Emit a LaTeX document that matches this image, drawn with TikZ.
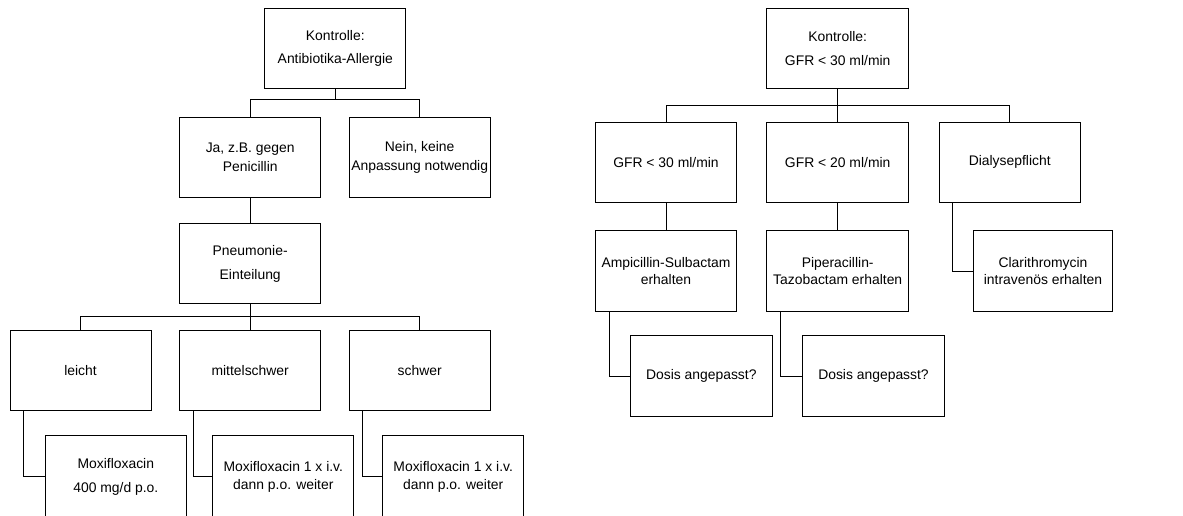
\documentclass[tikz,border=0pt]{standalone}
\usepackage{fontspec}
\setmainfont{Liberation Sans}
\begin{document}
\begin{tikzpicture}[x=1pt,y=-1pt,
  box/.style={draw, line width=1pt, minimum width=141pt, minimum height=80pt,
    inner sep=0pt, align=center, font=\fontsize{13.9}{17.5}\selectfont},
  wide/.style={font=\fontsize{13.9}{23.5}\selectfont},
  link/.style={line width=1pt}]
\useasboundingbox (0,0) rectangle (1183,515);
\clip (0,0) rectangle (1183,515);
% left tree
\node[box,wide] (allergie) at (335.3,48.3) {Kontrolle:\\Antibiotika-Allergie};
\node[box,font=\fontsize{13.9}{18.4}\selectfont] (ja) at (250.2,157.3) {Ja, z.B. gegen\\Penicillin};
\node[box,font=\fontsize{13.9}{18.4}\selectfont] (nein) at (419.7,157.3) {Nein, keine\\Anpassung notwendig};
\node[box,wide] (pneu) at (250.2,263.7) {Pneumonie-\\Einteilung};
\node[box] (leicht) at (80.5,370.7) {leicht};
\node[box] (mittel) at (250.2,370.7) {mittelschwer};
\node[box] (schwer) at (419.7,370.7) {schwer};
\node[box,wide,minimum height=82pt] (moxa) at (115.8,476.7) {Moxifloxacin\\400 mg/d p.o.};
\node[box,minimum height=82pt] (moxb) at (283.3,476.7) {Moxifloxacin 1 x i.v.\\dann p.o. weiter};
\node[box,minimum height=82pt] (moxc) at (453.2,476.7) {Moxifloxacin 1 x i.v.\\dann p.o. weiter};
\draw[link] (allergie.south) -- ++(0,11) coordinate (busA);
\draw[link] (busA) -| (ja.north);
\draw[link] (busA) -| (nein.north);
\draw[link] (ja.south) -- (pneu.north);
\draw[link] (pneu.south) -- ++(0,12.4) coordinate (busB);
\draw[link] (busB) -| (leicht.north);
\draw[link] (busB) -- (mittel.north);
\draw[link] (busB) -| (schwer.north);
\draw[link] ([xshift=14pt]leicht.south west) |- (moxa.west);
\draw[link] ([xshift=14pt]mittel.south west) |- (moxb.west);
\draw[link] ([xshift=14pt]schwer.south west) |- (moxc.west);
% right tree
\node[box,wide,minimum width=142pt] (gfr) at (837.7,48.3) {Kontrolle:\\GFR < 30 ml/min};
\node[box] (g30) at (666,162.3) {GFR < 30 ml/min};
\node[box,minimum width=142pt] (g20) at (837.7,162.3) {GFR < 20 ml/min};
\node[box] (dial) at (1009.7,162.3) {Dialysepflicht};
\node[box,minimum height=81.5pt] (ampi) at (666,271) {Ampicillin-Sulbactam\\erhalten};
\node[box,minimum height=81.5pt,minimum width=142pt] (pipe) at (837.7,271) {Piperacillin-\\Tazobactam erhalten};
\node[box,minimum height=81.5pt,minimum width=139.5pt] (clari) at (1043,271) {Clarithromycin\\intravenös erhalten};
\node[box,minimum height=81.5pt,minimum width=142.5pt] (dosa) at (701.3,376) {Dosis angepasst?};
\node[box,minimum height=81.5pt,minimum width=142.5pt] (dosb) at (873.5,376) {Dosis angepasst?};
\draw[link] (gfr.south) -- ++(0,17) coordinate (busC);
\draw[link] (busC) -| (g30.north);
\draw[link] (busC) -- (g20.north);
\draw[link] (busC) -| (dial.north);
\draw[link] (g30.south) -- (ampi.north);
\draw[link] (g20.south) -- (pipe.north);
\draw[link] ([xshift=14pt]dial.south west) |- (clari.west);
\draw[link] ([xshift=14pt]ampi.south west) |- (dosa.west);
\draw[link] ([xshift=14pt]pipe.south west) |- (dosb.west);
\end{tikzpicture}
\end{document}
